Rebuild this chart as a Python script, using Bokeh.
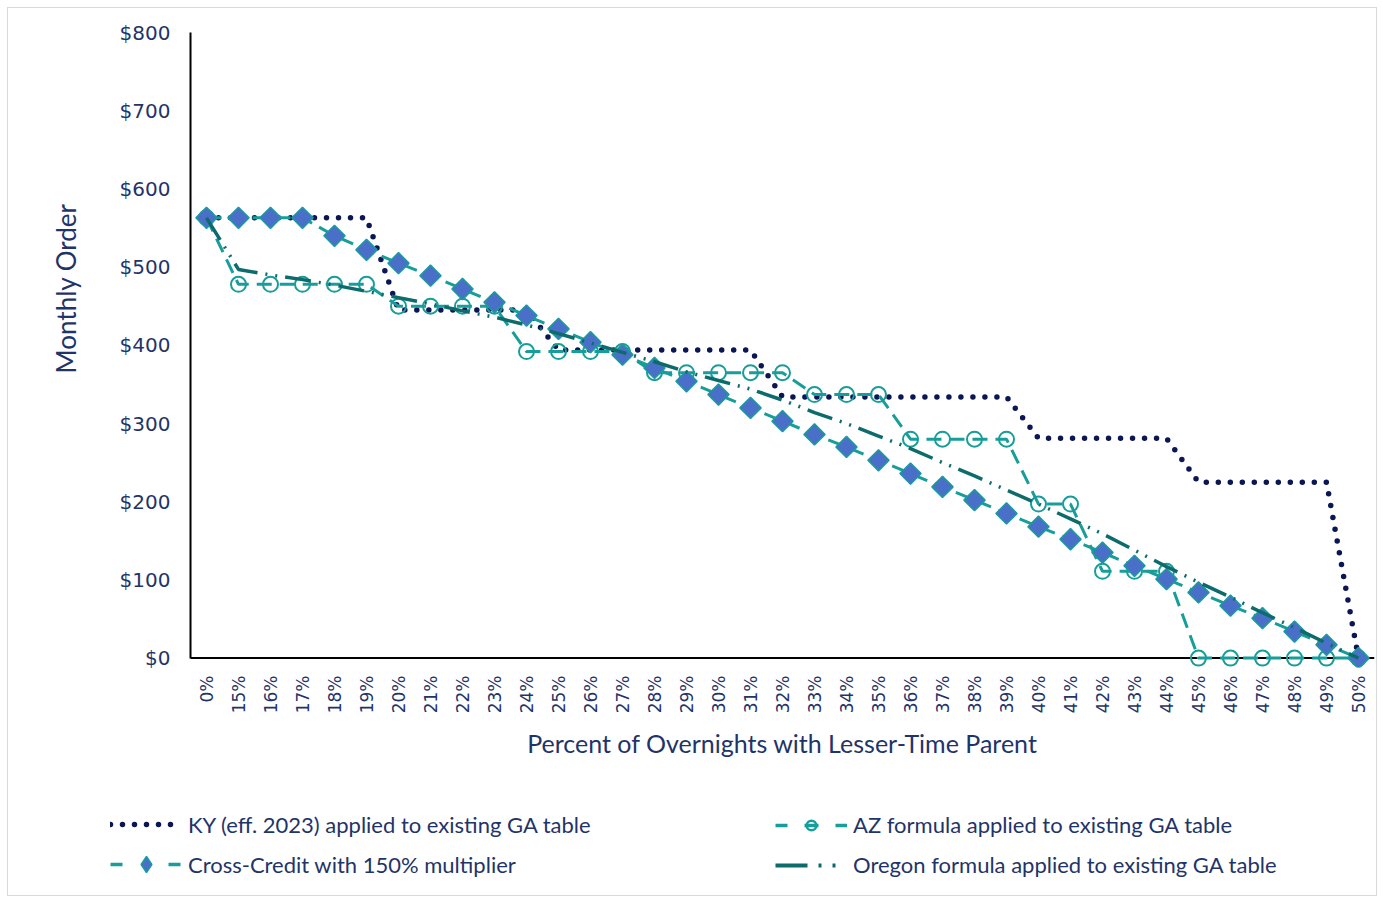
import numpy as np
from bokeh.plotting import figure
from bokeh.layouts import column
from bokeh.models import (Range1d, FactorRange, FixedTicker, NumeralTickFormatter, Legend,
                          LegendItem, Title, Span)
from bokeh.embed import file_html
from bokeh.resources import INLINE

categories = ["0%", "15%", "16%", "17%", "18%", "19%", "20%", "21%", "22%", "23%",
              "24%", "25%", "26%", "27%", "28%", "29%", "30%", "31%", "32%", "33%",
              "34%", "35%", "36%", "37%", "38%", "39%", "40%", "41%", "42%", "43%",
              "44%", "45%", "46%", "47%", "48%", "49%", "50%"]

ky = [563, 563, 563, 563, 563, 563, 445, 445, 445, 445,
      445, 394, 394, 394, 394, 394, 394, 394, 334, 334,
      334, 334, 334, 334, 334, 334, 281, 281, 281, 281,
      281, 225, 225, 225, 225, 225, 0]

az = [563, 478, 478, 478, 478, 478, 450, 450, 450, 450,
      392, 392, 392, 392, 365, 365, 365, 365, 365, 337,
      337, 337, 280, 280, 280, 280, 197, 197, 111, 111,
      111, 0, 0, 0, 0, 0, 0]

cross = [563, 563, 563, 563, 540, 522, 505, 489, 472, 455,
         438, 421, 404, 388, 371, 354, 337, 320, 303, 286,
         270, 253, 236, 219, 202, 185, 168, 152, 135, 118,
         101, 84, 67, 51, 34, 17, 0]

oregon = [563, 497, 490, 484, 477, 469, 461, 453, 444, 436,
          426, 415, 403, 391, 379, 366, 355, 344, 330, 314,
          300, 284, 268, 250, 233, 215, 197, 178, 159, 138,
          117, 97, 78, 58, 39, 19, 0]

y_ticks = [0, 100, 200, 300, 400, 500, 600, 700, 800]

labels = ["KY (eff. 2023) applied to existing GA table",
          "AZ formula applied to existing GA table",
          "Cross-Credit with 150% multiplier",
          "Oregon formula applied to existing GA table"]

NAVY = "#0b1655"
TEAL = "#179d9a"
DTEAL = "#0d6b6b"
DIAM = "#4a6fc8"
TXT = "#1f3468"

STY = {
    "ky": dict(line_color=NAVY, line_width=5.5, line_dash="0 12", line_cap="round"),
    "az_l": dict(line_color=TEAL, line_width=3, line_dash="15 8"),
    "az_m": dict(marker="circle", size=15, line_color=TEAL, line_width=2, fill_alpha=0),
    "cr_l": dict(line_color=TEAL, line_width=3, line_dash="15 8"),
    "cr_m": dict(marker="square", angle=np.pi / 4, size=15, fill_color=DIAM, line_color=TEAL, line_width=1.5),
    "or": dict(line_color=DTEAL, line_width=3.5, line_dash="26 8 2 8 2 8"),
}

p = figure(frame_width=1184, frame_height=635, x_range=FactorRange(factors=categories),
           y_range=Range1d(-12, 800), output_backend="svg", toolbar_location=None,
           min_border_left=182, min_border_right=2, min_border_top=24, min_border_bottom=123)
p.frame_align = False
p.outline_line_color = None
p.grid.visible = False
p.background_fill_color = "white"
p.border_fill_color = "white"

# axes
p.yaxis.ticker = FixedTicker(ticks=y_ticks)
p.yaxis.formatter = NumeralTickFormatter(format="$0")
p.yaxis.bounds = (0, 800)
p.yaxis.major_tick_line_color = None
p.yaxis.minor_tick_line_color = None
p.yaxis.axis_line_color = "black"
p.yaxis.axis_line_width = 2
p.yaxis.major_label_text_font = "DejaVu Sans"
p.yaxis.major_label_text_font_size = "20px"
p.yaxis.major_label_text_color = TXT
p.yaxis.major_label_standoff = 14

ytitle = Title(text="Monthly Order", align="left", offset=294, standoff=70,
               text_font="Lato", text_font_style="normal", text_font_size="26px",
               text_color=TXT)
p.add_layout(ytitle, "left")

p.xaxis.major_tick_line_color = None
p.xaxis.minor_tick_line_color = None
p.xaxis.axis_line_color = None
p.xaxis.major_label_orientation = np.pi / 2
p.xaxis.major_label_text_font = "DejaVu Sans"
p.xaxis.major_label_text_font_size = "17px"
p.xaxis.major_label_text_color = TXT
p.xaxis.major_label_standoff = 2
p.xaxis.axis_label = "Percent of Overnights with Lesser-Time Parent"
p.xaxis.axis_label_text_font = "Lato"
p.xaxis.axis_label_text_font_style = "normal"
p.xaxis.axis_label_text_font_size = "25px"
p.xaxis.axis_label_text_color = TXT
p.xaxis.axis_label_standoff = 12

# x axis line at $0
p.add_layout(Span(location=0, dimension="width", line_color="black", line_width=2, level="underlay"))

# series
p.line(categories, ky, **STY["ky"])
p.line(categories, az, **STY["az_l"])
p.scatter(categories, az, **STY["az_m"])
p.line(categories, cross, **STY["cr_l"])
p.scatter(categories, cross, **STY["cr_m"])
p.line(categories, oregon, **STY["or"])

# legend figure
lf = figure(width=1368, height=105, x_range=Range1d(0, 1), y_range=Range1d(0, 1),
            x_axis_type=None, y_axis_type=None, output_backend="svg", toolbar_location=None,
            min_border=0)
lf.frame_align = False
lf.outline_line_color = None
lf.grid.visible = False
nx, ny = [-5, -4], [-5, -5]
l_ky = lf.line(nx, ny, line_color=NAVY, line_width=5.5, line_dash="0 12", line_cap="round")
l_az = lf.line(nx, ny, line_color=TEAL, line_width=3.5, line_dash="12 17 14 17 12")
m_az = lf.scatter(nx, ny, marker="circle", size=12, line_color=TEAL, line_width=2.5, fill_alpha=0)
l_cr = lf.line(nx, ny, line_color=TEAL, line_width=3.5, line_dash="12 46")
m_cr = lf.scatter(nx, ny, marker="diamond", size=18, fill_color=DIAM, line_color=TEAL, line_width=1.5)
l_or = lf.line(nx, ny, line_color=DTEAL, line_width=4, line_dash="32 11 3 11 3 40")

common = dict(label_text_font="Lato", label_text_font_size="22px", label_text_color=TXT,
              glyph_width=72, label_height=24, label_standoff=6,
              padding=0, margin=0, border_line_color=None,
              background_fill_alpha=0)

leg1 = Legend(items=[LegendItem(label=labels[0], renderers=[l_ky]),
                     LegendItem(label=labels[2], renderers=[l_cr, m_cr])],
              location=(102, 11), glyph_height=40, spacing=0, **common)
leg2 = Legend(items=[LegendItem(label=labels[1], renderers=[l_az, m_az]),
                     LegendItem(label=labels[3], renderers=[l_or])],
              location=(767, 17), glyph_height=24, spacing=13, **common)
lf.add_layout(leg1)
lf.add_layout(leg2)

layout = column(p, lf, spacing=0)
layout.styles = {"border": "1px solid #d9d9d9", "margin": "7px 0 0 7px"}

open("out.html", "w").write(file_html(layout, INLINE))
